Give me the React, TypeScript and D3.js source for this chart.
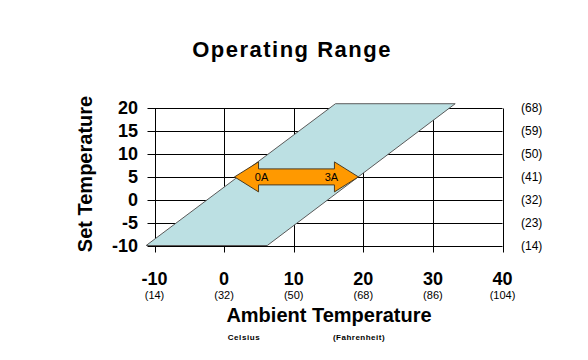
import { useRef, useEffect } from "react";
import * as d3 from "d3";

const celsiusTicks = [-10, 0, 10, 20, 30, 40];
const fahrenheitX = ["(14)", "(32)", "(50)", "(68)", "(86)", "(104)"];
const setTicks = [20, 15, 10, 5, 0, -5, -10];
const fahrenheitY = ["(68)", "(59)", "(50)", "(41)", "(32)", "(23)", "(14)"];

// operating region corners, [ambient °C, set °C]
const rangeX = [-11.2, 6.2, 33.2, 16];
const rangeY = [-10, -10, 21, 21];

// current arrow from 0A to 3A at set = 5
const arrowFrom = 1.5;
const arrowTo = 19.3;
const arrowAt = 5;
const arrowLabels = ["0A", "3A"];

const W = 588;
const H = 360;

function App() {
  const svgRef = useRef<SVGSVGElement>(null);

  useEffect(() => {
    const svg = d3.select(svgRef.current);
    svg.selectAll("*").remove();

    const x = d3.scaleLinear().domain([-10, 40]).range([154.5, 502.5]);
    const y = d3.scaleLinear().domain([-10, 20]).range([245.5, 108.3]);
    const font = "Arial, 'Liberation Sans', sans-serif";

    // grid
    const grid = svg.append("g").attr("stroke", "#000").attr("stroke-width", 1);
    grid
      .selectAll("line.h")
      .data(setTicks)
      .join("line")
      .attr("class", "h")
      .attr("x1", x(-10) - 7)
      .attr("x2", x(40))
      .attr("y1", (d) => Math.round(y(d)) + 0.5)
      .attr("y2", (d) => Math.round(y(d)) + 0.5);
    grid
      .selectAll("line.v")
      .data(celsiusTicks)
      .join("line")
      .attr("class", "v")
      .attr("x1", (d) => Math.round(x(d)) + 0.5)
      .attr("x2", (d) => Math.round(x(d)) + 0.5)
      .attr("y1", Math.round(y(20)) + 0.5)
      .attr("y2", y(-10) + 7);

    // operating region
    const pts: [number, number][] = rangeX.map((v, i) => [x(v), y(rangeY[i])]);
    svg
      .append("path")
      .attr("d", d3.line()(pts) + "Z")
      .attr("fill", "#bce0e3")
      .attr("stroke", "#5a5a5a")
      .attr("stroke-width", 1);

    // arrow
    const x0 = x(arrowFrom);
    const x1 = x(arrowTo);
    const yc = y(arrowAt);
    const sh = 8;
    const hh = 15;
    const hl = 24;
    const arrowPts: [number, number][] = [
      [x0, yc],
      [x0 + hl, yc - hh],
      [x0 + hl, yc - sh],
      [x1 - hl, yc - sh],
      [x1 - hl, yc - hh],
      [x1, yc],
      [x1 - hl, yc + hh],
      [x1 - hl, yc + sh],
      [x0 + hl, yc + sh],
      [x0 + hl, yc + hh],
    ];
    svg
      .append("path")
      .attr("d", d3.line()(arrowPts) + "Z")
      .attr("fill", "#ff9900")
      .attr("stroke", "#4a3a20")
      .attr("stroke-width", 1);
    svg
      .selectAll("text.amp")
      .data(arrowLabels)
      .join("text")
      .attr("class", "amp")
      .attr("x", (_, i) => (i === 0 ? x0 + 27 : x1 - 27))
      .attr("y", yc + 4)
      .attr("text-anchor", "middle")
      .attr("font-family", font)
      .attr("font-size", 11)
      .text((d) => d);

    // y tick labels
    svg
      .selectAll("text.yl")
      .data(setTicks)
      .join("text")
      .attr("class", "yl")
      .attr("x", 138)
      .attr("y", (d) => y(d) + 6)
      .attr("text-anchor", "end")
      .attr("font-family", font)
      .attr("font-weight", "bold")
      .attr("font-size", 18)
      .text((d) => d);
    svg
      .selectAll("text.yf")
      .data(fahrenheitY)
      .join("text")
      .attr("class", "yf")
      .attr("x", 521)
      .attr("y", (_, i) => y(setTicks[i]) + 4)
      .attr("font-family", font)
      .attr("font-size", 12)
      .text((d) => d);

    // x tick labels
    svg
      .selectAll("text.xl")
      .data(celsiusTicks)
      .join("text")
      .attr("class", "xl")
      .attr("x", (d) => x(d))
      .attr("y", 285)
      .attr("text-anchor", "middle")
      .attr("font-family", font)
      .attr("font-weight", "bold")
      .attr("font-size", 18)
      .text((d) => d);
    svg
      .selectAll("text.xf")
      .data(fahrenheitX)
      .join("text")
      .attr("class", "xf")
      .attr("x", (_, i) => x(celsiusTicks[i]))
      .attr("y", 299)
      .attr("text-anchor", "middle")
      .attr("font-family", font)
      .attr("font-size", 11)
      .text((d) => d);

    // titles
    svg
      .append("text")
      .attr("x", 292)
      .attr("y", 57)
      .attr("text-anchor", "middle")
      .attr("font-family", font)
      .attr("font-weight", "bold")
      .attr("font-size", 22)
      .attr("letter-spacing", 1.5)
      .text("Operating Range");
    svg
      .append("text")
      .attr("x", 329)
      .attr("y", 322)
      .attr("text-anchor", "middle")
      .attr("font-family", font)
      .attr("font-weight", "bold")
      .attr("font-size", 20)
      .text("Ambient Temperature");
    svg
      .append("text")
      .attr("transform", "translate(92,174) rotate(-90)")
      .attr("text-anchor", "middle")
      .attr("font-family", font)
      .attr("font-weight", "bold")
      .attr("font-size", 20)
      .text("Set Temperature");
    svg
      .append("text")
      .attr("x", 244)
      .attr("y", 340)
      .attr("text-anchor", "middle")
      .attr("font-family", font)
      .attr("font-weight", "bold")
      .attr("font-size", 8)
      .attr("letter-spacing", 0.6)
      .text("Celsius");
    svg
      .append("text")
      .attr("x", 359)
      .attr("y", 340)
      .attr("text-anchor", "middle")
      .attr("font-family", font)
      .attr("font-weight", "bold")
      .attr("font-size", 8)
      .attr("letter-spacing", 0.5)
      .text("(Fahrenheit)");
  }, []);

  return (
    <svg
      ref={svgRef}
      width={W}
      height={H}
      style={{ position: "absolute", left: 0, top: 0, background: "#fff" }}
    />
  );
}

export default App;
